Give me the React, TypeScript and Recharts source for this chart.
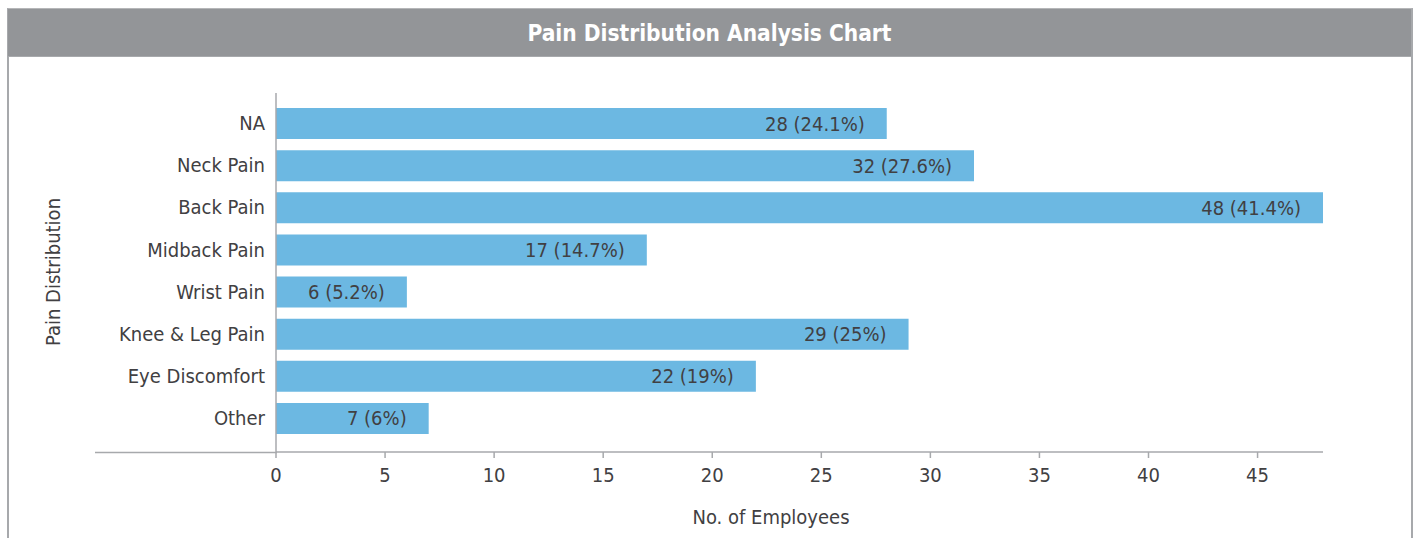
import { BarChart, Bar, XAxis, YAxis, LabelList } from 'recharts';

const categories = ['NA', 'Neck Pain', 'Back Pain', 'Midback Pain', 'Wrist Pain', 'Knee & Leg Pain', 'Eye Discomfort', 'Other'];
const employees = [28, 32, 48, 17, 6, 29, 22, 7];
const percents = ['24.1%', '27.6%', '41.4%', '14.7%', '5.2%', '25%', '19%', '6%'];
const xTicks = [0, 5, 10, 15, 20, 25, 30, 35, 40, 45];

const data = categories.map((name, i) => ({
  name,
  value: employees[i],
  label: `${employees[i]} (${percents[i]})`,
}));

const FONT = "'Liberation Sans Narrow', 'DejaVu Sans Condensed', 'Roboto Condensed', sans-serif";
const TEXT = '#414042';
const AXIS = '#a7a9ac';
const FS = 20;

export default function App() {
  return (
    <div style={{ position: 'absolute', left: 0, top: 0, width: 1415, height: 538, overflow: 'hidden', fontFamily: FONT }}>
      {/* frame */}
      <div
        style={{
          position: 'absolute',
          left: 7,
          top: 8,
          width: 1402,
          height: 560,
          borderLeft: `2px solid ${AXIS}`,
          borderRight: `2px solid ${AXIS}`,
          borderTop: `1px solid #b5b6b8`,
        }}
      />
      <div
        style={{
          position: 'absolute',
          left: 8,
          top: 9,
          width: 1403,
          height: 47,
          background: '#939598',
          borderBottom: '1px solid #a7a9ac',
          color: '#fff',
          fontWeight: 'bold',
          fontSize: 22.5,
          display: 'flex',
          alignItems: 'center',
          justifyContent: 'center',
        }}
      >
        Pain Distribution Analysis Chart
      </div>

      <div style={{ position: 'absolute', left: 0, top: 0 }}>
        <BarChart
          width={1415}
          height={538}
          data={data}
          layout="vertical"
          margin={{ top: 93, right: 92, bottom: 0, left: 0 }}
        >
          <XAxis
            type="number"
            domain={[0, 48]}
            ticks={xTicks}
            allowDataOverflow
            height={86}
            tickSize={6}
            tickMargin={10}
            axisLine={{ stroke: AXIS, strokeWidth: 1.5 }}
            tickLine={{ stroke: AXIS, strokeWidth: 1.5 }}
            tick={{ fill: TEXT, fontSize: FS, fontFamily: FONT }}
          />
          <YAxis
            type="category"
            dataKey="name"
            width={276}
            padding={{ top: 9, bottom: 13 }}
            tickLine={false}
            tickSize={0}
            tickMargin={11}
            axisLine={{ stroke: AXIS, strokeWidth: 1.5 }}
            tick={{ fill: TEXT, fontSize: FS, fontFamily: FONT }}
            interval={0}
          />
          <Bar dataKey="value" fill="#6cb8e2" barSize={31} isAnimationActive={false}>
            <LabelList dataKey="label" position="insideRight" offset={22} fill={TEXT} fontSize={FS} fontFamily={FONT} />
          </Bar>
        </BarChart>
      </div>

      {/* extended baseline and axis titles */}
      <svg width={1415} height={538} style={{ position: 'absolute', left: 0, top: 0, pointerEvents: 'none' }}>
        <line x1={95} x2={277} y1={452.5} y2={452.5} stroke={AXIS} strokeWidth={1.5} />
        <text x={771} y={517} textAnchor="middle" dominantBaseline="central" fill={TEXT} fontSize={FS} fontFamily={FONT}>
          No. of Employees
        </text>
        <text
          x={53}
          y={272}
          textAnchor="middle"
          dominantBaseline="central"
          fill={TEXT}
          fontSize={FS}
          fontFamily={FONT}
          transform="rotate(-90 53 272)"
        >
          Pain Distribution
        </text>
      </svg>
    </div>
  );
}
